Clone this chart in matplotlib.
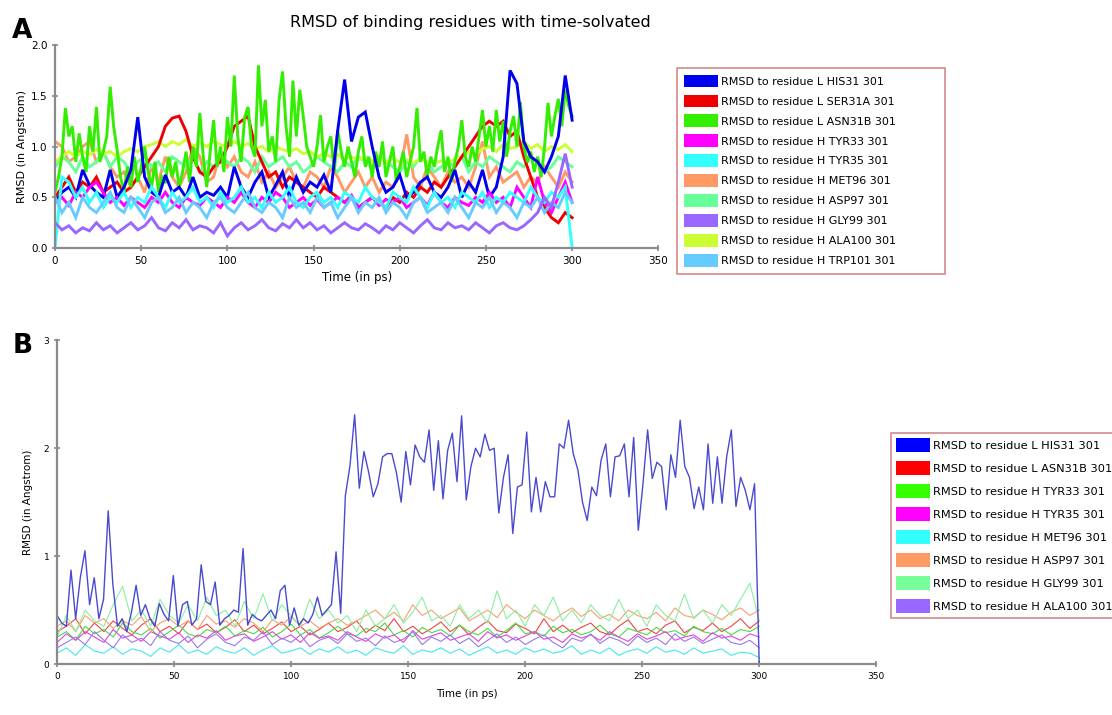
import numpy as np
import matplotlib
matplotlib.use('Agg')
import matplotlib.pyplot as plt
from matplotlib.patches import Patch

# ---- Panel A data (RMSD, Angstrom; sampled every 4 ps from 0 to 300 ps, ASN31B every 2 ps) ----
a_labels = ['RMSD to residue L HIS31 301', 'RMSD to residue L SER31A 301',
            'RMSD to residue L ASN31B 301', 'RMSD to residue H TYR33 301',
            'RMSD to residue H TYR35 301', 'RMSD to residue H MET96 301',
            'RMSD to residue H ASP97 301', 'RMSD to residue H GLY99 301',
            'RMSD to residue H ALA100 301', 'RMSD to residue H TRP101 301']
a_colors = ['#0000ee', '#ee0000', '#33ee00', '#ff00ff', '#33ffff',
            '#ff9966', '#66ff99', '#9966ff', '#ccff33', '#66ccff']

a_his31 = [0.45, 0.55, 0.6, 0.5, 0.77, 0.62, 0.55, 0.5, 0.77, 0.5, 0.6, 0.77, 1.29, 0.7, 0.55, 0.5,
           0.72, 0.55, 0.6, 0.5, 0.7, 0.5, 0.55, 0.52, 0.6, 0.5, 0.8, 0.6, 0.5, 0.65, 0.75, 0.5,
           0.62, 0.75, 0.5, 0.7, 0.55, 0.65, 0.6, 0.72, 0.55, 1.16, 1.66, 1.05, 1.29, 1.34, 1.0, 0.7,
           0.55, 0.6, 0.72, 0.5, 0.55, 0.65, 0.7, 0.55, 0.5, 0.6, 0.77, 0.5, 0.65, 0.55, 0.77, 0.5,
           0.6, 0.9, 1.75, 1.62, 1.05, 0.9, 0.85, 0.75, 0.9, 1.1, 1.7, 1.26]
a_ser31a = [0.5, 0.6, 0.7, 0.55, 0.65, 0.6, 0.7, 0.55, 0.6, 0.65, 0.55, 0.6, 0.7, 0.8, 0.9, 1.0,
            1.2, 1.28, 1.3, 1.15, 0.9, 0.75, 0.7, 0.8, 0.85, 1.0, 1.2, 1.25, 1.3, 1.0, 0.85, 0.7,
            0.75, 0.6, 0.7, 0.65, 0.6, 0.55, 0.5, 0.6, 0.55, 0.5, 0.45, 0.5, 0.4, 0.45, 0.5, 0.45,
            0.4, 0.5, 0.45, 0.55, 0.5, 0.6, 0.55, 0.65, 0.6, 0.7, 0.8, 0.9, 1.0, 1.1, 1.2, 1.25,
            1.2, 1.25, 1.1, 1.15, 0.9, 0.7, 0.5, 0.4, 0.3, 0.25, 0.35, 0.3]
a_asn31b = [0.55, 0.7, 0.9, 1.38, 1.1, 1.2, 0.85, 1.13, 0.9, 0.75, 1.2, 0.95, 1.39, 0.85, 0.95, 1.1,
            1.59, 1.2, 0.97, 0.7, 0.55, 0.8, 0.6, 0.9, 0.65, 0.8, 1.0, 0.75, 0.6, 0.85, 0.55, 0.7,
            0.64, 0.9, 0.7, 0.85, 0.6, 0.75, 0.95, 0.65, 1.0, 0.8, 1.33, 0.9, 0.6, 0.95, 1.26, 0.8,
            1.0, 0.75, 1.29, 1.0, 1.7, 1.1, 0.85, 1.29, 1.39, 1.0, 0.9, 1.8, 1.2, 1.46, 0.95, 1.1,
            0.85, 1.46, 1.74, 1.2, 0.9, 1.65, 1.1, 1.56, 1.3, 1.0, 0.9, 0.8, 1.0, 1.31, 0.85, 1.0,
            1.1, 0.75, 1.16, 0.95, 0.8, 1.0, 0.85, 0.7, 0.95, 1.1, 0.8, 0.9, 0.7, 0.95, 0.8, 1.05,
            0.7, 0.85, 1.0, 0.65, 0.8, 0.95, 0.7, 0.85, 1.0, 1.38, 0.85, 0.95, 0.7, 0.9, 0.8, 1.0,
            1.16, 0.75, 0.9, 0.65, 0.85, 1.0, 1.26, 0.9, 0.8, 1.0, 0.85, 1.1, 1.36, 1.0, 1.2, 0.95,
            1.36, 1.05, 1.25, 0.9, 1.15, 1.3, 1.0, 1.44, 1.0, 0.85, 0.95, 0.75, 0.9, 0.7, 1.0, 1.43,
            1.1, 1.3, 1.47, 1.2, 1.56, 1.4, 1.3]
a_tyr33 = [0.45, 0.5, 0.42, 0.55, 0.5, 0.6, 0.65, 0.55, 0.45, 0.5, 0.42, 0.5, 0.45, 0.4, 0.5, 0.45,
           0.55, 0.45, 0.4, 0.5, 0.45, 0.42, 0.5, 0.45, 0.4, 0.5, 0.45, 0.55, 0.45, 0.4, 0.5, 0.45,
           0.55, 0.5, 0.4, 0.45, 0.5, 0.42, 0.48, 0.4, 0.45, 0.5, 0.45, 0.52, 0.4, 0.45, 0.5, 0.42,
           0.48, 0.45, 0.5, 0.4, 0.45, 0.5, 0.42, 0.55, 0.45, 0.4, 0.5, 0.45, 0.42, 0.5, 0.45, 0.55,
           0.45, 0.5, 0.4, 0.6, 0.5, 0.4, 0.7, 0.45, 0.35, 0.5, 0.65, 0.45]
a_tyr35 = [0.0, 0.7, 0.65, 0.5, 0.6, 0.45, 0.55, 0.4, 0.5, 0.45, 0.55, 0.4, 0.5, 0.45, 0.6, 0.5,
           0.4, 0.55, 0.45, 0.5, 0.6, 0.45, 0.5, 0.4, 0.55, 0.45, 0.5, 0.6, 0.45, 0.5, 0.4, 0.55,
           0.45, 0.5, 0.6, 0.45, 0.4, 0.5, 0.55, 0.45, 0.5, 0.4, 0.55, 0.5, 0.45, 0.6, 0.5, 0.45,
           0.4, 0.55, 0.5, 0.45, 0.6, 0.5, 0.4, 0.55, 0.45, 0.5, 0.4, 0.55, 0.5, 0.45, 0.55, 0.4,
           0.5, 0.45, 0.55, 0.5, 0.45, 0.6, 0.5, 0.45, 0.55, 0.5, 0.6, 0.0]
a_met96 = [1.05, 1.0, 0.85, 0.9, 1.0, 1.05, 0.85, 0.95, 0.8, 0.7, 0.75, 0.6, 0.7, 0.55, 0.8, 0.65,
           0.9, 0.7, 0.6, 0.75, 1.0, 0.9, 0.65, 0.7, 0.95, 0.8, 0.9, 0.75, 0.7, 0.85, 0.65, 0.75,
           0.6, 0.7, 0.8, 0.65, 0.6, 0.75, 0.7, 0.6, 0.8, 0.7, 0.55, 0.65, 0.75, 0.6, 0.7, 0.55,
           0.65, 0.6, 0.75, 1.12, 0.7, 0.6, 0.8, 0.7, 0.6, 0.75, 0.65, 0.7, 0.6, 0.8, 1.05, 0.7,
           0.8, 0.65, 0.7, 0.75, 0.6, 0.7, 0.65, 0.8, 0.7, 0.6, 0.75, 0.65]
a_asp97 = [0.8, 0.9, 0.85, 0.75, 0.9, 0.8, 0.85, 0.95, 0.8, 0.9, 0.85, 0.75, 0.85, 0.9, 0.8, 0.85,
           0.75, 0.9, 0.85, 0.8, 0.9, 0.75, 0.85, 0.8, 0.9, 0.85, 0.8, 0.9, 0.85, 0.75, 0.9, 0.8,
           0.85, 0.9, 0.8, 0.85, 0.75, 0.8, 0.9, 0.85, 0.8, 0.75, 0.85, 0.8, 0.9, 0.85, 0.8, 0.9,
           0.85, 0.8, 0.75, 0.85, 0.8, 0.9, 0.85, 0.75, 0.8, 0.85, 0.8, 0.9, 0.75, 0.85, 0.8, 0.9,
           0.85, 0.8, 0.75, 0.85, 0.8, 0.9, 0.85, 0.75, 0.8, 0.9, 0.85, 0.8]
a_gly99 = [0.25, 0.18, 0.22, 0.15, 0.2, 0.17, 0.25, 0.18, 0.22, 0.15, 0.2, 0.25, 0.18, 0.22, 0.3, 0.2,
           0.17, 0.25, 0.2, 0.28, 0.18, 0.22, 0.2, 0.15, 0.25, 0.12, 0.2, 0.25, 0.18, 0.22, 0.28, 0.2,
           0.17, 0.24, 0.2, 0.28, 0.2, 0.25, 0.18, 0.22, 0.15, 0.2, 0.25, 0.2, 0.18, 0.24, 0.2, 0.15,
           0.22, 0.18, 0.25, 0.2, 0.15, 0.22, 0.28, 0.2, 0.18, 0.25, 0.2, 0.22, 0.18, 0.25, 0.2, 0.15,
           0.22, 0.25, 0.2, 0.18, 0.22, 0.28, 0.35, 0.5, 0.4, 0.65, 0.93, 0.6]
a_ala100 = [0.85, 0.9, 0.95, 0.9, 0.95, 0.92, 0.97, 0.93, 0.95, 0.9, 0.95, 0.98, 0.95, 1.0, 1.02, 1.05,
            1.0, 1.05, 1.02, 1.07, 1.0, 1.04, 1.0, 1.05, 1.02, 1.0, 1.05, 1.0, 1.03, 0.98, 1.0, 0.95,
            1.0, 0.97, 0.95, 0.98, 0.93, 0.95, 0.9, 0.93, 0.9, 0.92, 0.88, 0.9, 0.87, 0.9, 0.86, 0.88,
            0.85, 0.88, 0.85, 0.87, 0.84, 0.88, 0.85, 0.83, 0.86, 0.84, 0.88, 0.9, 0.95, 0.92, 0.98, 1.0,
            0.95, 1.02, 0.98, 1.0, 1.05, 0.98, 1.02, 0.95, 1.0, 0.97, 1.02, 0.95]
a_trp101 = [0.5, 0.35, 0.45, 0.3, 0.5, 0.4, 0.35, 0.45, 0.55, 0.4, 0.35, 0.5, 0.4, 0.3, 0.45, 0.5,
            0.35, 0.4, 0.5, 0.35, 0.45, 0.4, 0.3, 0.45, 0.5, 0.4, 0.35, 0.45, 0.55, 0.4, 0.35, 0.45,
            0.4, 0.3, 0.5, 0.4, 0.45, 0.35, 0.5, 0.4, 0.45, 0.3, 0.4, 0.5, 0.35, 0.45, 0.4, 0.5,
            0.35, 0.45, 0.4, 0.3, 0.45, 0.5, 0.35, 0.4, 0.45, 0.35, 0.5, 0.4, 0.3, 0.45, 0.4, 0.5,
            0.35, 0.45, 0.4, 0.3, 0.45, 0.4, 0.5, 0.35, 0.45, 0.4, 0.55, 0.45]

# ---- Panel B data ----
b_labels = ['RMSD to residue L HIS31 301', 'RMSD to residue L ASN31B 301',
            'RMSD to residue H TYR33 301', 'RMSD to residue H TYR35 301',
            'RMSD to residue H MET96 301', 'RMSD to residue H ASP97 301',
            'RMSD to residue H GLY99 301', 'RMSD to residue H ALA100 301']
b_colors = ['#0000ff', '#ff0000', '#33ff00', '#ff00ff', '#33ffff', '#ff9966', '#77ff99', '#9966ff']
b_line_colors = ['#4a4ad0', '#ee4444', '#44dd44', '#dd44dd', '#44e8e8', '#f5a070', '#88f0a0', '#9977ee']

# every 2 ps, 0..300
b_his31 = [0.45, 0.38, 0.35, 0.87, 0.42, 0.8, 1.05, 0.55, 0.8, 0.42, 0.6, 1.42, 0.74, 0.35, 0.42, 0.3,
           0.48, 0.73, 0.45, 0.55, 0.42, 0.35, 0.56, 0.46, 0.4, 0.82, 0.35, 0.55, 0.58, 0.36, 0.42, 0.92,
           0.58, 0.55, 0.76, 0.36, 0.42, 0.45, 0.5, 0.48, 1.07, 0.36, 0.46, 0.42, 0.4, 0.45, 0.5, 0.42,
           0.68, 0.73, 0.36, 0.52, 0.36, 0.42, 0.38, 0.46, 0.62, 0.45, 0.5, 0.55, 1.04, 0.47, 1.56, 1.84,
           2.31, 1.63, 1.97, 1.78, 1.55, 1.67, 1.92, 1.95, 1.95, 1.77, 1.5, 1.97, 1.66, 2.03, 1.92, 1.87,
           2.17, 1.61, 2.07, 1.53, 1.98, 2.14, 1.69, 2.3, 1.52, 1.83, 2.0, 1.92, 2.13, 1.98, 2.0, 1.4,
           1.73, 1.94, 1.21, 1.64, 1.66, 2.15, 1.41, 1.73, 1.41, 1.69, 1.55, 1.55, 2.04, 2.0, 2.26, 1.95,
           1.8, 1.5, 1.33, 1.64, 1.56, 1.89, 2.04, 1.55, 1.92, 1.93, 2.04, 1.55, 2.1, 1.24, 1.67, 2.17,
           1.72, 1.87, 1.83, 1.43, 1.94, 1.73, 2.26, 1.83, 1.73, 1.44, 1.64, 1.43, 2.04, 1.49, 1.92, 1.49,
           1.92, 2.17, 1.46, 1.73, 1.61, 1.43, 1.67, 0.0]
# every 4 ps, 0..300
b_asn31b = [0.3, 0.35, 0.42, 0.28, 0.38, 0.3, 0.4, 0.33, 0.27, 0.36, 0.42, 0.3, 0.35, 0.28, 0.4, 0.32,
            0.37, 0.29, 0.34, 0.41, 0.3, 0.36, 0.28, 0.33, 0.39, 0.3, 0.35, 0.27, 0.32, 0.38, 0.3, 0.34,
            0.4, 0.29, 0.36, 0.31, 0.42, 0.3, 0.35, 0.28, 0.33, 0.39, 0.3, 0.36, 0.27, 0.34, 0.4, 0.31,
            0.29, 0.37, 0.33, 0.28, 0.42, 0.3, 0.36, 0.29, 0.34, 0.38, 0.3, 0.27, 0.35, 0.41, 0.3, 0.33,
            0.28, 0.36, 0.4, 0.29, 0.34, 0.31, 0.38, 0.3, 0.35, 0.42, 0.33, 0.4]
b_tyr33 = [0.25, 0.3, 0.22, 0.35, 0.28, 0.32, 0.25, 0.38, 0.3, 0.27, 0.33, 0.24, 0.3, 0.36, 0.28, 0.25,
           0.32, 0.29, 0.35, 0.26, 0.31, 0.28, 0.34, 0.25, 0.3, 0.37, 0.27, 0.32, 0.24, 0.29, 0.35, 0.28,
           0.26, 0.33, 0.3, 0.38, 0.27, 0.31, 0.25, 0.34, 0.29, 0.32, 0.26, 0.36, 0.3, 0.27, 0.33, 0.25,
           0.31, 0.38, 0.28, 0.3, 0.26, 0.35, 0.29, 0.32, 0.27, 0.3, 0.36, 0.28, 0.25, 0.33, 0.3, 0.27,
           0.34, 0.29, 0.31, 0.26, 0.35, 0.3, 0.28, 0.33, 0.27, 0.32, 0.3, 0.35]
b_tyr35 = [0.2, 0.28, 0.22, 0.3, 0.25, 0.2, 0.32, 0.24, 0.27, 0.21, 0.3, 0.26, 0.23, 0.29, 0.2, 0.27,
           0.24, 0.31, 0.22, 0.26, 0.28, 0.21, 0.25, 0.3, 0.23, 0.27, 0.2, 0.29, 0.24, 0.26, 0.22, 0.3,
           0.25, 0.21, 0.28, 0.24, 0.27, 0.2, 0.31, 0.23, 0.26, 0.29, 0.22, 0.25, 0.28, 0.21, 0.3, 0.24,
           0.27, 0.22, 0.26, 0.3, 0.23, 0.25, 0.2, 0.28, 0.24, 0.27, 0.22, 0.3, 0.25, 0.21, 0.28, 0.23,
           0.26, 0.3, 0.22, 0.25, 0.27, 0.21, 0.29, 0.24, 0.26, 0.22, 0.28, 0.25]
b_met96 = [0.1, 0.15, 0.08, 0.18, 0.12, 0.1, 0.16, 0.09, 0.14, 0.12, 0.07, 0.15, 0.11, 0.18, 0.1, 0.13,
           0.09, 0.16, 0.12, 0.1, 0.15, 0.08, 0.13, 0.17, 0.1, 0.12, 0.15, 0.09, 0.14, 0.11, 0.16, 0.1,
           0.13, 0.08, 0.15, 0.12, 0.1, 0.17, 0.09, 0.13, 0.11, 0.15, 0.1, 0.14, 0.08, 0.12, 0.16, 0.1,
           0.13, 0.09, 0.15, 0.11, 0.14, 0.1, 0.12, 0.17, 0.09, 0.13, 0.1, 0.15, 0.08, 0.12, 0.14, 0.1,
           0.16, 0.11, 0.13, 0.09, 0.15, 0.1, 0.12, 0.14, 0.08, 0.11, 0.1, 0.06]
b_asp97 = [0.35, 0.4, 0.3, 0.45, 0.38, 0.42, 0.33, 0.4, 0.36, 0.44, 0.3, 0.38, 0.42, 0.35, 0.4, 0.32,
           0.45, 0.37, 0.4, 0.34, 0.42, 0.38, 0.3, 0.41, 0.36, 0.44, 0.35, 0.4, 0.33, 0.38, 0.42, 0.36,
           0.4, 0.45, 0.5, 0.42, 0.48, 0.4, 0.55, 0.45, 0.5, 0.42, 0.47, 0.52, 0.4, 0.45, 0.5, 0.43,
           0.55, 0.48, 0.42, 0.5, 0.45, 0.4, 0.47, 0.52, 0.44, 0.5, 0.42, 0.46, 0.4, 0.5, 0.45, 0.42,
           0.48, 0.4, 0.52, 0.45, 0.43, 0.5, 0.46, 0.41, 0.48, 0.52, 0.45, 0.5]
b_gly99 = [0.25, 0.45, 0.3, 0.5, 0.4, 0.35, 0.55, 0.72, 0.4, 0.5, 0.35, 0.6, 0.45, 0.38, 0.55, 0.4,
           0.62, 0.45, 0.5, 0.35, 0.58, 0.42, 0.65, 0.4, 0.55, 0.45, 0.35, 0.6, 0.42, 0.5, 0.38, 0.45,
           0.3, 0.5, 0.35, 0.42, 0.55, 0.38, 0.48, 0.62, 0.4, 0.45, 0.35, 0.55, 0.42, 0.5, 0.38, 0.68,
           0.42, 0.5, 0.35, 0.55, 0.45, 0.62, 0.4, 0.5, 0.38, 0.55, 0.45, 0.4, 0.6, 0.42, 0.5, 0.35,
           0.55, 0.45, 0.4, 0.65, 0.42, 0.5, 0.38, 0.55, 0.45, 0.6, 0.75, 0.4]
b_ala100 = [0.15, 0.2, 0.25, 0.18, 0.3, 0.22, 0.15, 0.27, 0.2, 0.24, 0.17, 0.3, 0.22, 0.19, 0.26, 0.15,
            0.23, 0.28, 0.2, 0.17, 0.25, 0.22, 0.3, 0.18, 0.24, 0.2, 0.27, 0.16, 0.22, 0.25, 0.19, 0.28,
            0.21, 0.24, 0.17, 0.26, 0.2, 0.23, 0.3, 0.18, 0.25, 0.21, 0.27, 0.19, 0.24, 0.16, 0.22, 0.28,
            0.2, 0.25, 0.18, 0.23, 0.27, 0.2, 0.15, 0.24, 0.21, 0.28, 0.19, 0.25, 0.22, 0.17, 0.26, 0.2,
            0.24, 0.18, 0.28, 0.21, 0.25, 0.19, 0.23, 0.27, 0.2, 0.18, 0.22, 0.15]

a_series = [a_his31, a_ser31a, a_asn31b, a_tyr33, a_tyr35, a_met96, a_asp97, a_gly99, a_ala100, a_trp101]
b_series = [b_his31, b_asn31b, b_tyr33, b_tyr35, b_met96, b_asp97, b_gly99, b_ala100]

t_end = 300
grey = '#8a8a8a'


def style_axes(ax, ymax, yticks, ylabels, fs):
    for s in ['top', 'right']:
        ax.spines[s].set_visible(False)
    for s in ['left', 'bottom']:
        ax.spines[s].set_color(grey)
        ax.spines[s].set_linewidth(1.6)
    ax.set_xlim(0, 350)
    ax.set_ylim(0, ymax)
    ax.set_xticks(range(0, 351, 50))
    ax.set_yticks(yticks)
    ax.set_yticklabels(ylabels)
    ax.tick_params(direction='inout', length=5, width=1.2, color=grey, labelsize=fs, pad=3)


fig = plt.figure(figsize=(11.12, 7.15), dpi=100)

# ---- Panel A ----
axA = fig.add_axes([0.0495, 0.653, 0.5425, 0.284])
draw_order_a = [5, 6, 8, 1, 2, 0, 3, 4, 9, 7]
for i in draw_order_a:
    vals = a_series[i]
    t = np.linspace(0, t_end, len(vals))
    axA.plot(t, vals, color=a_colors[i], lw=2.1, solid_joinstyle='miter')
style_axes(axA, 2.0, [0, 0.5, 1.0, 1.5, 2.0], ['0.0', '0.5', '1.0', '1.5', '2.0'], 7.5)
axA.set_xlabel('Time (in ps)', fontsize=8.5, labelpad=4)
axA.set_ylabel('RMSD (in Angstrom)', fontsize=8, labelpad=3)

fig.text(0.423, 0.968, 'RMSD of binding residues with time-solvated', ha='center', va='center',
         fontsize=11.5)
fig.text(0.011, 0.956, 'A', fontsize=19, fontweight='bold', va='center')

handles_a = [Patch(facecolor=c, edgecolor='none') for c in a_colors]
legA = fig.legend(handles_a, a_labels, loc='upper left', bbox_to_anchor=(0.609, 0.5, 0.241, 0.405),
                  mode='expand', fontsize=8, frameon=True, fancybox=False, borderaxespad=0,
                  borderpad=0.6, handlelength=3.1, handleheight=1.4, labelspacing=0.64,
                  handletextpad=0.25)
legA.get_frame().set_edgecolor('#cc7777')
legA.get_frame().set_linewidth(1.3)

# ---- Panel B ----
axB = fig.add_axes([0.0513, 0.0713, 0.7367, 0.4527])
for i in list(range(1, 8)) + [0]:
    vals = b_series[i]
    t = np.linspace(0, t_end, len(vals))
    axB.plot(t, vals, color=b_line_colors[i], lw=1.0 if i == 0 else 0.8)
style_axes(axB, 3.0, [0, 1, 2, 3], ['0', '1', '2', '3'], 6.5)
axB.set_xlabel('Time (in ps)', fontsize=7.5, labelpad=6)
axB.set_ylabel('RMSD (in Angstrom)', fontsize=7.5, labelpad=8)
fig.text(0.011, 0.516, 'B', fontsize=19, fontweight='bold', va='center')

handles_b = [Patch(facecolor=c, edgecolor='none') for c in b_colors]
legB = fig.legend(handles_b, b_labels, loc='upper left', bbox_to_anchor=(0.801, 0.0, 0.25, 0.394),
                  mode='expand', fontsize=8.2, frameon=True, fancybox=False, borderaxespad=0,
                  borderpad=0.45, handlelength=3.0, handleheight=1.5, labelspacing=0.8,
                  handletextpad=0.25)
legB.get_frame().set_edgecolor('#cc7777')
legB.get_frame().set_linewidth(1.3)

fig.savefig('out.png', dpi=100)
